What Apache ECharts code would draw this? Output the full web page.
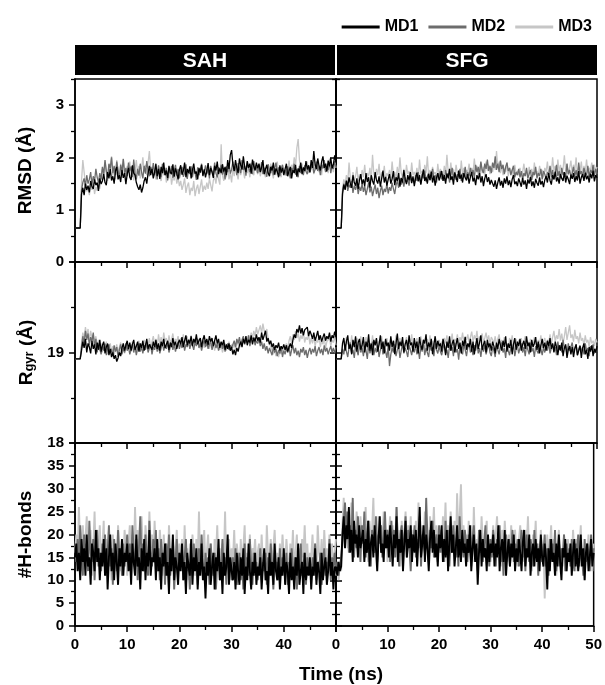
<!DOCTYPE html>
<html><head><meta charset="utf-8">
<script src="https://cdn.jsdelivr.net/npm/echarts@6/dist/echarts.min.js"></script>
<style>html,body{margin:0;padding:0;background:#fff}#c{width:605px;height:685px}</style>
</head><body><div id="c"></div>
<script>
// ---------------- DATA ----------------
const seriesNames = ['MD1', 'MD2', 'MD3'];
const panelTitles = ['SAH', 'SFG'];
const xTickLabelsLeft = [0, 10, 20, 30, 40];
const xTickLabelsRight = [0, 10, 20, 30, 40, 50];
const rmsdTicks = [0, 1, 2, 3];
const rgyrTicks = [18, 19];
const hbTicks = [0, 5, 10, 15, 20, 25, 30, 35];
const RMSD_STEP_NS = 0.25;
const RGYR_STEP_NS = 0.25;
const HB_STEP_NS = 0.25;

// RMSD (Å), SAH
const rmsd_SAH_MD1 = [0.65,
 0.65,0.65,0.65,0.65,1.30,1.42,1.28,1.50,1.38,1.46,1.33,1.55,1.44,1.40,1.58,1.47,1.52,1.36,1.60,1.49,
 1.55,1.68,1.52,1.47,1.72,1.60,1.78,1.56,1.64,1.50,1.74,1.82,1.58,1.66,1.53,1.76,1.61,1.70,1.49,1.68,
 1.80,1.62,1.57,1.85,1.70,1.66,1.52,1.44,1.38,1.48,1.33,1.42,1.55,1.62,1.50,1.70,1.84,1.66,1.78,1.60,
 1.72,1.88,1.64,1.78,1.59,1.82,1.70,1.90,1.66,1.75,1.61,1.84,1.72,1.68,1.87,1.63,1.79,1.70,1.58,1.76,
 1.85,1.67,1.74,1.90,1.62,1.78,1.70,1.83,1.60,1.76,1.88,1.69,1.73,1.58,1.80,1.71,1.86,1.65,1.77,1.62,
 1.74,1.89,1.66,1.80,1.72,1.61,1.84,1.75,1.92,1.68,1.79,1.70,1.87,1.73,1.82,1.66,1.95,1.78,2.05,2.14,
 1.86,1.74,1.95,1.80,1.70,1.98,1.85,1.77,2.02,1.82,1.72,1.93,1.80,1.88,1.69,1.96,1.83,1.75,1.90,1.79,
 1.88,1.72,1.81,1.95,1.68,1.78,1.86,1.70,1.64,1.82,1.75,1.90,1.67,1.79,1.73,1.62,1.85,1.71,1.80,1.66,
 1.78,1.88,1.64,1.74,1.82,1.60,1.76,1.70,1.86,1.63,1.79,1.72,1.90,1.68,1.81,1.74,1.93,1.77,1.85,1.72,
 1.95,1.80,2.12,1.86,1.78,1.98,1.84,1.75,1.92,2.02,1.80,1.88,1.73,1.94,1.83,1.99,1.79,1.87,2.04,1.90];
const rmsd_SAH_MD2 = [0.65,
 0.65,0.65,0.65,0.65,1.38,1.52,1.60,1.45,1.66,1.50,1.58,1.72,1.48,1.64,1.55,1.78,1.62,1.52,1.70,1.58,
 1.82,1.68,1.95,1.74,1.62,1.88,1.79,2.00,1.70,1.84,1.66,1.92,1.76,1.60,1.86,1.72,1.97,1.68,1.80,1.64,
 1.90,1.74,1.83,1.62,1.96,1.70,1.58,1.78,1.65,1.88,1.72,1.60,1.84,1.69,1.93,1.75,1.64,1.82,1.71,1.89,
 1.66,1.79,1.58,1.85,1.70,1.62,1.88,1.74,1.67,1.80,1.56,1.76,1.69,1.84,1.61,1.73,1.86,1.65,1.78,1.60,
 1.74,1.82,1.63,1.70,1.87,1.59,1.76,1.68,1.83,1.62,1.79,1.71,1.57,1.81,1.66,1.75,1.88,1.64,1.72,1.85,
 1.68,1.78,1.60,1.84,1.73,1.66,1.90,1.70,1.62,1.81,1.75,1.86,1.67,1.79,1.58,1.83,1.72,1.88,1.69,1.77,
 1.92,1.74,1.83,1.66,1.89,1.78,1.70,1.95,1.76,1.84,1.65,1.90,1.80,1.72,1.86,1.68,1.93,1.77,1.82,1.70,
 1.85,1.73,1.91,1.68,1.80,1.75,1.63,1.87,1.76,1.70,1.84,1.66,1.79,1.90,1.72,1.81,1.64,1.78,1.86,1.69,
 1.76,1.65,1.83,1.72,1.60,1.80,1.74,1.88,1.67,1.77,1.62,1.84,1.70,1.79,1.66,1.85,1.73,1.68,1.82,1.71,
 1.80,1.88,1.70,1.77,1.92,1.74,1.83,1.66,1.86,1.79,1.95,1.72,1.84,1.76,1.90,1.70,1.85,1.78,1.93,1.81];
const rmsd_SAH_MD3 = [0.65,
 0.65,0.65,0.65,0.65,1.55,1.95,1.72,1.48,1.35,1.42,1.28,1.46,1.38,1.52,1.30,1.44,1.36,1.55,1.40,1.62,
 1.78,1.60,1.92,1.70,1.55,1.86,1.74,2.02,1.65,1.80,1.58,1.95,1.72,1.62,1.88,1.68,1.98,1.75,1.60,1.84,
 1.70,1.92,1.64,1.82,1.56,1.76,1.95,1.68,1.84,1.60,1.78,2.00,1.72,1.86,1.66,1.90,2.12,1.74,1.82,1.62,
 1.76,1.58,1.70,1.84,1.62,1.55,1.74,1.66,1.80,1.52,1.68,1.60,1.76,1.48,1.64,1.56,1.72,1.50,1.62,1.45,
 1.55,1.38,1.48,1.60,1.32,1.45,1.52,1.28,1.42,1.36,1.55,1.26,1.40,1.48,1.30,1.44,1.58,1.34,1.46,1.38,
 1.52,1.40,1.60,1.47,1.35,1.56,1.64,1.50,1.72,1.58,1.48,2.25,1.66,1.55,1.78,1.62,1.86,1.58,1.70,1.52,
 1.80,1.64,1.88,1.70,1.58,1.82,1.66,1.92,1.74,1.60,1.84,1.70,1.78,1.62,1.90,1.72,1.66,1.86,1.75,1.68,
 1.82,1.64,1.76,1.90,1.70,1.62,1.84,1.74,1.68,1.88,1.72,1.60,1.80,1.66,1.92,1.70,1.78,1.62,1.85,1.73,
 1.66,1.82,1.72,1.94,1.70,1.86,1.78,2.00,1.84,2.18,2.35,1.95,1.76,1.88,1.68,1.82,1.74,1.92,1.70,1.84,
 1.78,1.90,1.68,1.86,1.76,1.96,1.72,1.84,1.66,1.92,1.80,1.74,1.88,1.70,1.98,1.76,1.84,1.72,1.94,1.80];

// RMSD (Å), SFG
const rmsd_SFG_MD1 = [0.65,
 0.65,0.65,0.65,0.65,1.30,1.48,1.38,1.55,1.44,1.62,1.50,1.42,1.66,1.52,1.46,1.60,1.40,1.57,1.68,1.49,
 1.58,1.45,1.70,1.53,1.62,1.42,1.66,1.55,1.48,1.72,1.57,1.50,1.64,1.44,1.60,1.75,1.52,1.63,1.46,1.58,
 1.68,1.50,1.59,1.74,1.47,1.62,1.55,1.70,1.44,1.61,1.52,1.76,1.58,1.49,1.66,1.56,1.72,1.51,1.64,1.45,
 1.60,1.71,1.54,1.66,1.48,1.63,1.77,1.55,1.62,1.50,1.68,1.57,1.73,1.52,1.65,1.46,1.61,1.70,1.56,1.64,
 1.74,1.55,1.66,1.50,1.69,1.60,1.78,1.57,1.64,1.48,1.71,1.62,1.53,1.75,1.59,1.67,1.52,1.70,1.61,1.56,
 1.68,1.50,1.63,1.72,1.54,1.61,1.47,1.66,1.58,1.70,1.52,1.64,1.45,1.60,1.68,1.53,1.62,1.48,1.57,1.50,
 1.44,1.56,1.40,1.52,1.62,1.46,1.55,1.42,1.60,1.50,1.64,1.47,1.56,1.43,1.58,1.66,1.49,1.54,1.45,1.60,
 1.52,1.44,1.61,1.48,1.56,1.40,1.58,1.50,1.63,1.45,1.54,1.42,1.59,1.51,1.46,1.62,1.48,1.55,1.43,1.57,
 1.64,1.52,1.70,1.56,1.48,1.66,1.58,1.73,1.54,1.62,1.50,1.68,1.60,1.55,1.72,1.52,1.65,1.58,1.49,1.67,
 1.59,1.70,1.53,1.64,1.56,1.74,1.50,1.62,1.68,1.55,1.71,1.58,1.65,1.52,1.69,1.60,1.75,1.54,1.66,1.61];
const rmsd_SFG_MD2 = [0.65,
 0.65,0.65,0.65,0.65,1.34,1.50,1.40,1.56,1.36,1.48,1.42,1.55,1.32,1.46,1.38,1.52,1.30,1.44,1.36,1.50,
 1.34,1.45,1.28,1.40,1.52,1.33,1.44,1.26,1.38,1.48,1.30,1.42,1.22,1.36,1.46,1.28,1.40,1.34,1.50,1.31,
 1.43,1.36,1.52,1.40,1.30,1.47,1.55,1.42,1.60,1.48,1.56,1.44,1.62,1.52,1.58,1.46,1.65,1.54,1.60,1.50,
 1.66,1.55,1.72,1.58,1.50,1.68,1.60,1.75,1.54,1.64,1.70,1.56,1.62,1.78,1.58,1.66,1.52,1.70,1.62,1.74,
 1.58,1.68,1.55,1.76,1.63,1.70,1.52,1.66,1.80,1.60,1.72,1.57,1.68,1.62,1.78,1.55,1.70,1.64,1.82,1.60,
 1.72,1.64,1.80,1.68,1.76,1.60,1.86,1.72,1.82,1.66,1.92,1.76,1.70,1.88,1.78,1.96,1.74,1.84,1.70,1.90,
 1.80,2.02,1.76,1.88,1.72,1.94,1.78,1.86,1.68,1.82,1.90,1.74,1.80,1.66,1.76,1.84,1.62,1.72,1.66,1.78,
 1.62,1.74,1.58,1.70,1.64,1.80,1.60,1.68,1.76,1.57,1.72,1.66,1.82,1.60,1.70,1.64,1.78,1.58,1.74,1.68,
 1.60,1.72,1.66,1.84,1.62,1.76,1.58,1.70,1.86,1.64,1.74,1.60,1.80,1.66,1.72,1.62,1.88,1.68,1.76,1.63,
 1.70,1.82,1.64,1.76,1.60,1.90,1.68,1.74,1.62,1.80,1.70,1.66,1.84,1.62,1.76,1.70,1.86,1.64,1.78,1.68];
const rmsd_SFG_MD3 = [0.65,
 0.65,0.65,0.65,0.65,1.40,1.58,1.48,1.66,1.52,1.90,1.60,1.50,1.72,1.56,1.64,1.82,1.54,1.68,1.58,1.76,
 1.62,1.86,1.58,1.70,1.64,1.80,1.56,2.05,1.68,1.60,1.78,1.66,1.88,1.58,1.72,1.62,1.84,1.55,1.70,1.64,
 1.76,1.60,1.92,1.66,1.72,1.58,1.82,1.64,2.00,1.70,1.62,1.78,1.56,1.86,1.68,1.74,1.60,1.90,1.66,1.72,
 1.64,1.80,1.58,1.96,1.68,1.74,1.62,1.86,1.70,2.02,1.64,1.76,1.60,1.82,1.68,1.72,1.58,1.88,1.66,1.78,
 1.70,1.62,1.84,1.68,2.05,1.72,1.64,1.90,1.66,1.78,1.60,1.86,1.70,1.74,1.62,1.94,1.68,1.80,1.64,1.76,
 1.72,1.88,1.66,1.80,1.70,1.98,1.74,1.84,1.66,1.78,1.90,1.70,1.82,1.64,1.92,1.74,1.86,1.68,1.80,1.72,
 1.88,1.76,2.12,1.80,1.92,1.70,1.84,1.66,1.78,1.72,1.90,1.64,1.80,1.70,1.76,1.62,1.86,1.68,1.74,1.66,
 1.80,1.64,1.72,1.88,1.66,1.76,1.60,1.82,1.70,1.78,1.62,1.90,1.68,1.74,1.64,1.84,1.70,1.76,1.62,1.80,
 1.72,1.92,1.66,1.80,1.70,2.00,1.74,1.84,1.64,1.96,1.72,1.86,1.68,1.78,2.04,1.74,1.88,1.66,1.80,1.94,
 1.70,1.86,1.76,2.00,1.68,1.82,1.74,1.92,1.66,1.84,1.72,1.96,1.70,1.80,1.76,1.90,1.68,1.86,1.74,1.82];

// Rgyr (Å), SAH
const rgyr_SAH_MD1 = [18.93,
 18.93,18.93,18.93,18.93,19.02,19.12,19.05,19.15,19.00,19.10,19.06,18.99,19.13,19.04,19.09,18.98,19.11,19.03,19.14,19.01,
 19.08,19.12,18.99,19.06,19.10,18.97,19.04,18.95,19.00,18.93,18.97,18.90,18.94,19.00,18.96,19.05,19.10,19.02,19.08,19.13,
 19.04,19.11,19.02,19.09,19.14,19.03,19.07,19.12,19.01,19.10,19.05,19.13,19.02,19.08,19.15,19.04,19.09,19.11,19.03,19.12,
 19.06,19.14,19.04,19.10,19.02,19.12,19.07,19.15,19.05,19.09,19.13,19.03,19.11,19.06,19.16,19.08,19.12,19.04,19.10,19.14,
 19.09,19.17,19.06,19.13,19.19,19.08,19.14,19.10,19.18,19.07,19.15,19.11,19.20,19.09,19.13,19.16,19.06,19.14,19.19,19.10,
 19.15,19.08,19.18,19.12,19.16,19.07,19.13,19.19,19.10,19.15,19.05,19.12,19.08,19.14,19.03,19.09,19.04,19.10,19.02,19.06,
 18.98,19.03,18.97,19.05,19.01,19.08,19.12,19.06,19.15,19.10,19.18,19.08,19.14,19.11,19.19,19.09,19.16,19.12,19.20,19.13,
 19.17,19.11,19.22,19.14,19.19,19.24,19.12,19.16,19.09,19.13,19.06,19.10,19.03,19.08,19.05,19.11,19.02,19.07,19.04,19.09,
 19.03,19.08,19.01,19.06,19.10,19.05,19.14,19.20,19.16,19.26,19.22,19.30,19.21,19.27,19.19,19.25,19.23,19.28,19.18,19.24,
 19.20,19.15,19.22,19.13,19.18,19.24,19.14,19.19,19.12,19.17,19.21,19.13,19.18,19.15,19.22,19.12,19.19,19.16,19.23,19.17];
const rgyr_SAH_MD2 = [18.93,
 18.93,18.93,18.93,18.93,19.06,19.18,19.10,19.24,19.14,19.21,19.08,19.17,19.12,19.22,19.06,19.15,19.00,19.10,19.04,18.98,
 19.07,19.02,19.10,18.97,19.05,19.09,18.99,19.04,18.96,19.08,19.01,19.06,18.95,19.03,19.09,18.98,19.05,19.00,19.10,19.02,
 19.06,18.98,19.04,19.09,19.00,19.07,18.97,19.05,19.10,19.01,19.06,18.99,19.08,19.03,19.11,19.00,19.05,19.09,18.98,19.06,
 19.03,19.10,19.01,19.07,18.99,19.05,19.11,19.02,19.08,19.04,19.12,19.00,19.06,19.10,19.03,19.09,19.01,19.07,19.12,19.04,
 19.10,19.05,19.13,19.02,19.09,19.06,19.14,19.04,19.11,19.08,19.03,19.12,19.07,19.15,19.05,19.10,19.02,19.09,19.13,19.06,
 19.11,19.04,19.09,19.13,19.03,19.08,19.12,19.05,19.10,19.02,19.07,19.11,19.04,19.09,19.01,19.06,19.10,19.03,19.08,19.05,
 19.09,19.13,19.06,19.15,19.10,19.17,19.08,19.14,19.18,19.09,19.16,19.11,19.19,19.07,19.14,19.12,19.17,19.08,19.13,19.10,
 19.15,19.07,19.12,19.04,19.10,19.02,19.07,18.99,19.05,19.01,18.97,19.06,19.00,19.04,18.96,19.03,18.99,19.07,18.95,19.02,
 18.98,19.05,19.00,19.07,18.96,19.03,19.08,18.99,19.05,18.97,19.02,18.95,19.04,19.00,19.06,18.97,19.03,18.94,19.01,19.05,
 18.98,19.04,19.00,19.07,18.96,19.02,19.06,18.99,19.04,18.97,19.08,19.01,19.05,18.98,19.03,19.07,19.00,19.05,18.99,19.06];
const rgyr_SAH_MD3 = [18.93,
 18.93,18.93,18.93,18.93,19.10,19.22,19.15,19.28,19.18,19.26,19.12,19.24,19.16,19.20,19.10,19.18,19.06,19.14,19.02,19.10,
 19.00,19.08,19.03,19.12,18.98,19.06,19.10,19.01,19.07,18.97,19.04,19.09,19.00,19.06,19.11,19.02,19.08,18.99,19.05,19.10,
 19.03,19.08,19.01,19.12,19.05,19.09,18.99,19.07,19.13,19.02,19.10,19.04,19.14,19.06,19.11,19.08,19.16,19.05,19.12,19.18,
 19.09,19.15,19.06,19.20,19.10,19.17,19.08,19.22,19.12,19.16,19.07,19.19,19.11,19.14,19.21,19.09,19.15,19.12,19.18,19.08,
 19.16,19.11,19.20,19.09,19.14,19.18,19.07,19.13,19.19,19.10,19.15,19.08,19.17,19.12,19.06,19.14,19.10,19.16,19.05,19.12,
 19.08,19.13,19.04,19.10,19.06,19.12,19.02,19.09,19.05,19.11,19.03,19.08,19.00,19.06,19.10,19.02,19.07,19.12,19.04,19.09,
 19.05,19.11,19.03,19.13,19.08,19.15,19.06,19.12,19.17,19.09,19.14,19.11,19.19,19.13,19.22,19.16,19.24,19.18,19.28,19.20,
 19.25,19.30,19.21,19.32,19.24,19.20,19.26,19.15,19.12,19.06,19.02,18.98,19.03,18.96,19.00,18.95,19.02,18.98,19.05,19.00,
 19.06,19.10,19.04,19.13,19.18,19.10,19.20,19.14,19.24,19.16,19.22,19.12,19.19,19.15,19.23,19.11,19.17,19.14,19.20,19.09,
 19.16,19.10,19.18,19.07,19.14,19.11,19.19,19.06,19.13,19.09,19.17,19.05,19.12,19.10,19.16,19.07,19.14,19.11,19.18,19.08];

// Rgyr (Å), SFG
const rgyr_SFG_MD1 = [18.93,
 18.93,18.93,18.93,18.93,19.10,19.16,19.02,19.12,19.19,19.04,19.09,18.98,19.14,19.06,19.18,19.01,19.11,19.15,19.03,19.08,
 19.17,19.00,19.12,19.06,19.20,19.02,19.10,18.97,19.14,19.08,19.16,19.01,19.09,19.19,19.04,19.12,18.99,19.15,19.07,19.11,
 19.02,19.18,19.06,19.13,18.98,19.10,19.21,19.04,19.12,19.07,19.17,19.00,19.09,19.14,19.03,19.19,19.08,19.11,19.01,19.16,
 19.05,19.12,18.99,19.17,19.08,19.03,19.14,19.10,19.20,19.02,19.11,19.06,19.15,18.98,19.09,19.18,19.04,19.13,19.07,19.10,
 19.01,19.15,19.08,18.97,19.12,19.05,19.18,19.02,19.10,19.14,19.00,19.09,19.16,19.04,19.11,18.99,19.13,19.07,19.17,19.03,
 19.10,19.06,19.15,19.01,19.12,18.98,19.08,19.16,19.04,19.11,19.19,19.03,19.09,19.13,19.00,19.14,19.06,19.10,19.02,19.12,
 19.07,18.99,19.11,19.04,19.15,19.08,19.02,19.13,19.06,19.18,19.01,19.10,19.05,19.14,18.98,19.09,19.16,19.03,19.12,19.07,
 19.15,19.02,19.09,19.13,19.04,19.18,19.07,19.11,19.00,19.14,19.06,19.10,19.17,19.03,19.12,18.99,19.08,19.15,19.05,19.11,
 19.02,19.13,19.07,19.16,19.04,19.10,19.00,19.12,19.06,18.97,19.08,19.02,19.11,18.96,19.05,19.09,18.94,19.03,19.07,18.98,
 19.06,18.95,19.04,19.09,18.97,19.02,19.07,18.94,19.05,19.10,18.98,19.03,18.93,19.06,19.01,19.08,18.96,19.04,19.00,19.07];
const rgyr_SFG_MD2 = [18.93,
 18.93,18.93,18.93,18.93,19.04,18.98,19.09,19.01,18.95,19.06,19.11,18.99,19.03,18.94,19.08,19.02,18.97,19.10,19.00,19.05,
 18.96,19.07,19.02,18.93,19.09,18.99,19.04,19.12,18.97,19.05,19.00,19.08,18.95,19.03,19.10,18.98,19.06,19.01,18.94,19.07,
 18.85,18.98,19.05,19.00,19.09,18.96,19.03,19.07,18.94,19.02,19.10,18.99,19.05,19.01,18.95,19.08,19.03,18.97,19.06,19.00,
 19.09,18.98,19.04,18.93,19.07,19.01,19.11,18.97,19.05,19.00,18.95,19.08,19.02,19.06,18.96,19.10,19.03,18.99,19.07,19.01,
 18.97,19.05,19.09,18.99,19.03,18.94,19.08,19.02,19.06,18.96,19.11,19.00,19.04,18.92,19.07,19.01,18.98,19.09,19.03,18.96,
 19.06,19.10,19.00,19.04,18.97,19.08,19.02,19.12,18.99,19.05,18.95,19.07,19.01,19.09,18.98,19.04,19.10,19.00,18.96,19.06,
 19.02,18.95,19.08,19.03,18.98,19.07,19.11,19.00,19.05,18.94,19.09,19.02,18.97,19.06,19.01,19.10,18.96,19.04,19.08,18.99,
 19.05,19.10,19.00,19.06,18.96,19.08,19.03,18.98,19.11,19.01,19.05,18.95,19.07,19.02,18.99,19.09,19.04,18.97,19.06,19.00,
 19.08,19.02,19.11,18.99,19.05,19.09,19.01,19.06,18.97,19.12,19.03,19.08,19.00,19.14,19.04,19.07,18.98,19.10,19.02,19.06,
 19.11,19.00,19.05,19.09,18.97,19.04,19.08,19.01,19.06,18.98,19.10,19.02,19.05,18.96,19.07,19.03,19.09,18.99,19.04,19.01];
const rgyr_SFG_MD3 = [18.93,
 18.93,18.93,18.93,18.93,19.08,19.14,19.03,19.17,19.09,19.12,19.05,19.19,19.07,19.13,19.02,19.16,19.10,19.06,19.18,19.04,
 19.12,19.08,19.17,19.03,19.14,19.10,19.06,19.19,19.05,19.11,19.15,19.02,19.13,19.08,19.18,19.04,19.12,19.09,19.16,19.06,
 19.10,19.15,19.03,19.13,19.08,19.19,19.05,19.12,19.16,19.07,19.14,19.02,19.11,19.17,19.06,19.13,19.09,19.20,19.04,19.12,
 19.08,19.16,19.05,19.12,19.18,19.07,19.14,19.03,19.11,19.15,19.06,19.19,19.09,19.13,19.04,19.17,19.10,19.06,19.14,19.08,
 19.12,19.05,19.16,19.10,19.19,19.07,19.14,19.11,19.21,19.08,19.15,19.12,19.20,19.09,19.17,19.13,19.22,19.10,19.18,19.14,
 19.20,19.11,19.17,19.23,19.12,19.19,19.14,19.24,19.10,19.18,19.15,19.21,19.11,19.16,19.22,19.13,19.19,19.09,19.17,19.14,
 19.10,19.18,19.07,19.15,19.20,19.09,19.14,19.06,19.17,19.11,19.13,19.05,19.16,19.10,19.19,19.08,19.12,19.15,19.06,19.14,
 19.09,19.16,19.05,19.12,19.18,19.08,19.13,19.04,19.15,19.10,19.07,19.17,19.11,19.06,19.14,19.09,19.19,19.05,19.12,19.16,
 19.08,19.14,19.11,19.20,19.09,19.17,19.24,19.12,19.19,19.15,19.26,19.13,19.21,19.10,19.18,19.28,19.14,19.22,19.30,19.16,
 19.20,19.12,19.25,19.15,19.18,19.10,19.22,19.13,19.16,19.08,19.19,19.11,19.14,19.06,19.17,19.10,19.13,19.07,19.15,19.11];

// #H-bonds, SAH
const hb_SAH_MD1 = [15,
 18,12,16,10,19,14,17,11,20,13,15,9,18,16,12,21,14,17,10,16,
 13,19,11,17,8,15,20,12,16,10,18,14,9,17,13,19,11,16,14,18,
 12,16,9,18,14,11,20,13,15,8,17,12,19,10,16,13,21,11,15,14,
 17,10,19,12,15,8,16,13,18,11,14,7,17,12,20,10,15,13,9,16,
 12,18,10,14,7,16,13,11,19,9,15,12,17,8,14,11,18,10,13,6,
 14,11,17,9,13,16,8,15,12,19,10,14,7,16,11,13,20,9,15,12,
 10,14,8,16,12,9,15,11,17,7,13,10,18,12,8,14,11,16,9,13,
 11,15,8,13,17,10,12,7,16,11,14,9,18,12,10,15,8,13,11,17,
 9,14,12,7,16,10,13,8,15,11,18,9,12,14,7,16,10,13,11,15,
 8,13,11,17,9,14,12,7,16,10,13,15,9,12,18,11,14,8,13,12];
const hb_SAH_MD2 = [17,
 14,19,13,22,16,11,20,15,18,12,23,16,14,19,10,17,21,13,16,12,
 18,14,20,11,16,22,13,17,9,19,15,12,21,14,17,11,18,13,16,20,
 14,18,11,22,16,13,19,10,17,24,14,18,12,20,15,11,23,16,13,19,
 15,21,12,17,10,19,14,16,9,18,13,20,11,15,17,8,14,19,12,16,
 13,17,10,15,19,12,14,8,16,11,18,13,15,9,17,12,20,14,10,16,
 12,15,9,18,13,11,16,8,14,17,10,13,19,11,15,9,17,12,14,10,
 15,11,17,9,13,16,10,14,8,18,12,15,11,19,13,9,16,12,14,10,
 13,17,10,14,12,16,9,15,11,18,13,8,16,12,14,10,17,11,15,13,
 12,16,9,14,11,17,13,10,15,8,14,12,18,11,13,16,9,15,12,14,
 11,15,13,18,10,14,12,16,9,13,17,11,14,12,19,10,15,13,16,12];
const hb_SAH_MD3 = [16,
 20,14,26,17,12,22,15,19,24,13,18,21,11,17,25,14,19,16,22,13,
 17,23,12,19,14,21,16,10,20,15,18,13,22,16,12,19,14,21,17,11,
 18,22,15,20,13,26,17,21,14,19,24,16,12,22,18,15,25,17,20,14,
 23,16,19,13,21,17,11,20,15,18,12,22,16,14,19,10,17,21,13,18,
 15,19,12,22,14,17,10,18,13,20,16,11,19,14,25,12,17,15,21,13,
 16,20,12,18,14,11,19,15,22,13,17,10,18,14,25,12,16,19,13,17,
 14,21,12,18,15,10,19,13,17,22,12,16,14,20,11,17,15,19,13,16,
 18,12,20,14,16,11,22,15,13,19,12,17,21,14,16,10,18,13,20,15,
 13,19,15,11,18,14,21,12,16,20,13,17,11,19,15,22,14,18,12,16,
 15,20,13,18,11,22,16,14,19,12,21,15,17,13,20,14,18,11,16,19];

// #H-bonds, SFG
const hb_SFG_MD1 = [13,
 11,14,12,13,20,24,17,22,19,26,16,21,14,23,18,20,15,22,17,19,
 21,14,19,16,23,13,18,20,15,22,17,12,19,24,16,18,14,21,17,20,
 15,22,18,13,20,17,24,14,19,16,21,12,18,23,15,19,17,22,14,20,
 16,21,13,19,26,15,18,22,14,20,17,12,19,23,16,21,15,18,13,20,
 17,22,14,19,15,21,12,18,24,16,20,13,17,22,15,19,14,21,16,18,
 13,19,16,22,12,17,20,14,18,9,16,21,13,19,15,17,12,20,14,18,
 16,20,13,18,15,22,12,17,19,14,21,11,16,19,13,18,15,20,12,17,
 14,19,16,12,18,21,13,17,15,20,11,16,18,13,19,14,17,12,20,15,
 13,18,15,8,17,12,19,14,16,11,18,13,20,14,10,17,15,19,12,16,
 14,18,11,16,19,13,17,12,15,20,13,17,10,16,18,12,15,19,13,16];
const hb_SFG_MD2 = [12,
 14,11,13,15,18,23,27,19,25,16,22,18,28,15,21,17,24,19,14,22,
 18,25,15,20,23,17,13,21,19,16,24,14,20,18,22,15,19,25,17,21,
 19,14,23,17,21,15,26,18,13,20,22,16,19,24,15,21,17,12,20,18,
 22,15,19,17,24,13,20,18,16,28,19,14,21,17,23,15,18,20,14,22,
 16,20,18,14,23,17,21,13,19,16,22,18,15,20,13,24,17,19,15,21,
 18,14,20,16,13,19,22,15,17,12,21,16,19,14,18,22,15,17,13,19,
 15,21,17,13,19,16,22,14,18,11,17,20,15,19,13,17,21,14,18,16,
 19,13,17,21,15,18,12,20,16,14,19,17,13,21,15,18,11,17,19,14,
 16,20,13,17,11,19,15,18,14,21,12,16,19,13,17,15,20,12,18,14,
 17,13,19,15,12,18,16,20,13,17,15,11,19,14,18,16,12,20,15,17];
const hb_SFG_MD3 = [11,
 13,10,14,12,22,28,19,25,17,23,20,27,16,22,18,25,21,15,24,19,
 22,16,26,19,14,23,18,21,28,17,20,15,24,19,22,16,25,18,21,14,
 20,24,17,22,15,19,26,18,21,13,23,17,20,25,16,22,18,24,15,21,
 18,23,16,27,20,14,22,19,25,17,21,15,24,18,20,26,16,22,19,17,
 21,16,24,19,27,17,22,15,25,20,18,23,16,29,19,24,31,18,22,17,
 20,15,23,18,22,14,26,17,19,13,21,16,24,18,15,20,23,16,19,14,
 18,22,15,20,24,17,19,13,21,16,23,18,14,20,17,22,15,19,21,16,
 13,19,22,16,18,14,21,17,24,15,19,12,20,17,23,15,18,13,21,16,
 18,6,15,20,13,17,22,14,19,16,11,18,21,15,17,13,20,16,12,19,
 15,18,13,21,16,12,19,14,17,22,13,16,10,18,15,20,14,17,12,18];

// ---------------- CHART ----------------
const FONT = '"Liberation Sans", Arial, Helvetica, sans-serif';
const colorOf = { MD1: '#000000', MD2: '#6c6c6c', MD3: '#c6c6c6' };

const rows = [
  { min: 0, max: 3.5, majors: [0, 1, 2, 3], minors: [0.5, 1.5, 2.5, 3.5], labels: rmsdTicks, step: RMSD_STEP_NS,
    name: 'RMSD (Å)', nameGap: 40, lw: 1.3,
    data: [[rmsd_SAH_MD1, rmsd_SAH_MD2, rmsd_SAH_MD3], [rmsd_SFG_MD1, rmsd_SFG_MD2, rmsd_SFG_MD3]] },
  { min: 18, max: 20, majors: [18, 19, 20], minors: [18.5, 19.5], labels: rgyrTicks, step: RGYR_STEP_NS,
    name: '{a|R}{b|gyr}{a| (Å)}', nameGap: 36, lw: 1.3,
    data: [[rgyr_SAH_MD1, rgyr_SAH_MD2, rgyr_SAH_MD3], [rgyr_SFG_MD1, rgyr_SFG_MD2, rgyr_SFG_MD3]] },
  { min: 0, max: 40, majors: [0, 5, 10, 15, 20, 25, 30, 35, 40], minors: [2.5, 7.5, 12.5, 17.5, 22.5, 27.5, 32.5, 37.5], labels: hbTicks, step: HB_STEP_NS,
    name: '#H-bonds', nameGap: 40, lw: 1.9,
    data: [[hb_SAH_MD1, hb_SAH_MD2, hb_SAH_MD3], [hb_SFG_MD1, hb_SFG_MD2, hb_SFG_MD3]] }
];

const colLeft = [75, 336], colW = 261;
const rowTop = [79, 262, 443], rowH = [183, 181, 183];
const black = '#000';
const lblStyle = { color: black, fontWeight: 'bold', fontSize: 15, fontFamily: FONT };

const grids = [], xAxes = [], yAxes = [], series = [];

rows.forEach((r, ri) => {
  [0, 1].forEach(ci => {
    const rect = { left: colLeft[ci], top: rowTop[ri], width: colW, height: rowH[ri] };
    const g = grids.length;
    grids.push(Object.assign({ show: true, borderColor: black, borderWidth: 1.5, backgroundColor: 'transparent' }, rect));
    const xi = xAxes.length;
    xAxes.push({
      gridIndex: g, type: 'value', min: 0, max: 50, interval: 10, position: 'bottom',
      axisLine: { show: true, onZero: false, lineStyle: { color: black, width: 1.5 } },
      axisTick: { show: true, inside: false, length: 6, lineStyle: { color: black, width: 1.5 } },
      minorTick: { show: true, splitNumber: 2, length: 4, lineStyle: { color: black, width: 1.3 } },
      splitLine: { show: false }, minorSplitLine: { show: false },
      axisLabel: Object.assign({ show: ri === 2, margin: 11,
        customValues: ci === 0 ? xTickLabelsLeft : xTickLabelsRight }, lblStyle)
    });
    const yi = yAxes.length;
    const mainY = {
      gridIndex: g, type: 'value', min: r.min, max: r.max, position: 'left',
      axisLine: { show: true, onZero: false, lineStyle: { color: black, width: 1.5 } },
      axisTick: { show: true, inside: ci === 1, length: 6, customValues: r.majors, lineStyle: { color: black, width: 1.5 } },
      splitLine: { show: false },
      axisLabel: ci === 0 ? Object.assign({ show: true, margin: 11, customValues: r.labels }, lblStyle) : { show: false }
    };
    if (ci === 0) {
      mainY.name = r.name;
      mainY.nameLocation = 'middle';
      mainY.nameRotate = 90;
      mainY.nameGap = r.nameGap;
      mainY.nameTextStyle = {
        color: black, fontWeight: 'bold', fontSize: 19, fontFamily: FONT,
        rich: {
          a: { color: black, fontWeight: 'bold', fontSize: 19, fontFamily: FONT, lineHeight: 22, verticalAlign: 'top' },
          b: { color: black, fontWeight: 'bold', fontSize: 13, fontFamily: FONT, lineHeight: 22, padding: [6, 0, 0, 0], verticalAlign: 'top' }
        }
      };
    }
    yAxes.push(mainY);
    if (ci === 0) {
      yAxes.push({
        gridIndex: g, type: 'value', min: r.min, max: r.max, position: 'right',
        axisLine: { show: true, onZero: false, lineStyle: { color: black, width: 1.5 } },
        axisTick: { show: true, inside: true, length: 6, customValues: r.majors, lineStyle: { color: black, width: 1.5 } },
        splitLine: { show: false }, axisLabel: { show: false }
      });
    }
    // overlay grid carrying the minor y ticks
    const g2 = grids.length;
    grids.push(Object.assign({ show: false }, rect));
    xAxes.push({ gridIndex: g2, type: 'value', min: 0, max: 50, show: false });
    yAxes.push({
      gridIndex: g2, type: 'value', min: r.min, max: r.max, position: 'left',
      axisLine: { show: false, onZero: false },
      axisTick: { show: true, inside: ci === 1, length: 4, customValues: r.minors, lineStyle: { color: black, width: 1.3 } },
      splitLine: { show: false }, axisLabel: { show: false }
    });
    if (ci === 0) {
      yAxes.push({
        gridIndex: g2, type: 'value', min: r.min, max: r.max, position: 'right',
        axisLine: { show: false, onZero: false },
        axisTick: { show: true, inside: true, length: 4, customValues: r.minors, lineStyle: { color: black, width: 1.3 } },
        splitLine: { show: false }, axisLabel: { show: false }
      });
    }
    // series: MD3 first, MD1 on top
    [2, 1, 0].forEach(si => {
      const arr = r.data[ci][si];
      const nm = seriesNames[si];
      series.push({
        type: 'line', name: nm, xAxisIndex: xi, yAxisIndex: yi,
        data: arr.map((v, i) => [i * r.step, v]),
        showSymbol: false, symbol: 'none', silent: true, animation: false,
        lineStyle: { width: r.lw, color: colorOf[nm] }, itemStyle: { color: colorOf[nm] },
        z: 2 + (2 - si)
      });
    });
  });
});

const chart = echarts.init(document.getElementById('c'), null, { renderer: 'canvas' });
chart.setOption({
  backgroundColor: '#fff',
  animation: false,
  legend: {
    data: seriesNames, top: 14, right: 8, itemWidth: 38, itemHeight: 3, itemGap: 10, icon: 'rect',
    textStyle: { color: black, fontWeight: 'bold', fontSize: 16, fontFamily: FONT }
  },
  grid: grids, xAxis: xAxes, yAxis: yAxes, series: series,
  graphic: [
    { type: 'rect', shape: { x: 75, y: 45, width: 260, height: 30 }, style: { fill: black } },
    { type: 'rect', shape: { x: 337, y: 45, width: 260, height: 30 }, style: { fill: black } },
    { type: 'text', x: 205, y: 61, style: { text: panelTitles[0], fill: '#fff', fontSize: 21, fontWeight: 'bold', fontFamily: FONT, align: 'center', verticalAlign: 'middle' } },
    { type: 'text', x: 467, y: 61, style: { text: panelTitles[1], fill: '#fff', fontSize: 21, fontWeight: 'bold', fontFamily: FONT, align: 'center', verticalAlign: 'middle' } },
    { type: 'text', x: 341, y: 675, style: { text: 'Time (ns)', fill: black, fontSize: 19, fontWeight: 'bold', fontFamily: FONT, align: 'center', verticalAlign: 'middle' } }
  ]
});

const lenIssues = [];
rows.forEach(r => r.data.forEach((col, ci) => col.forEach((a, si) => {
  const expected = Math.round(50 / r.step) + 1;
  if (a.length !== expected) lenIssues.push(r.name + ' col' + ci + ' ' + seriesNames[si] + ': ' + a.length + ' != ' + expected);
})));
if (lenIssues.length) throw new Error('Length mismatch: ' + lenIssues.join('; '));
</script>
</body></html>
